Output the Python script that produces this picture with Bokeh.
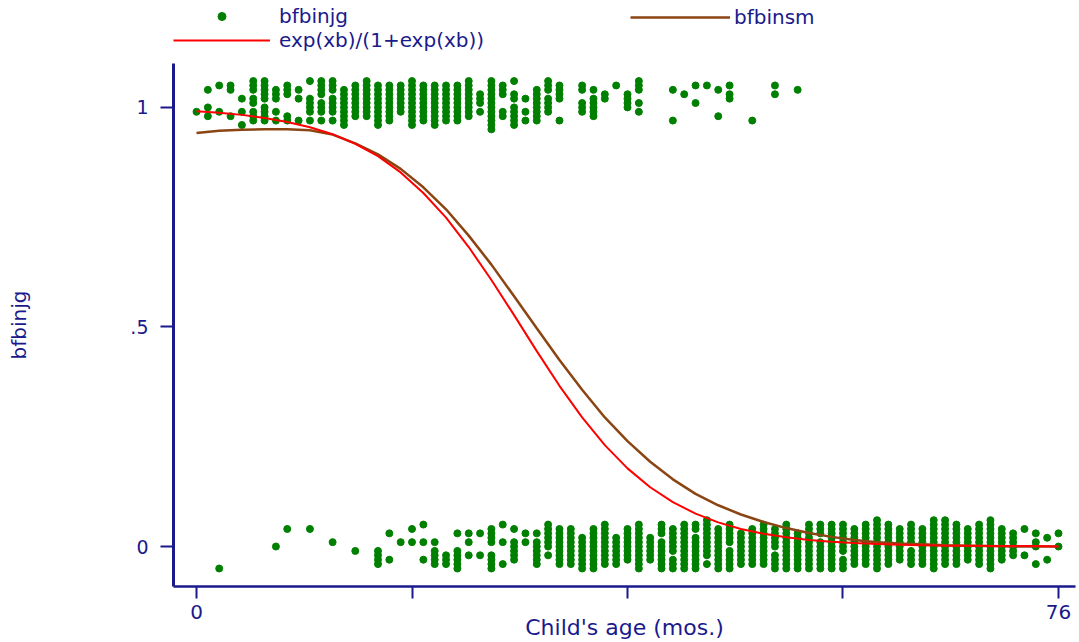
from bokeh.plotting import figure
from bokeh.layouts import column
from bokeh.models import Range1d, FixedTicker, Legend, LegendItem, ColumnDataSource
from bokeh.embed import file_html
from bokeh.resources import INLINE

# ---------------- data ----------------
# breastfed = 1 : age (months) and vertical jitter offsets (hundredths)
ones_age = [0, 1, 2, 3, 4, 5, 6, 7, 8, 9, 10, 11, 12, 13, 14, 15, 16, 17, 18, 19,
            20, 21, 22, 23, 24, 25, 26, 27, 28, 29, 30, 31, 32, 34, 35, 36, 37, 38,
            39, 42, 43, 44, 45, 46, 47, 49, 51, 53]
ones_jit = [[-1], [4, 0, -2], [5, -1], [5, 4, -2], [2, -1, -4],
            [6, 5, 4, 2, 1, -1, -2, -3], [6, 5, 4, 3, 2, 0, -1, -2, -3],
            [4, 3, 2, -1, -3], [5, 4, 3, -2, -3], [4, 2, -3], [6, 2, 1, 0, -1, -3],
            [6, 5, 4, 3, 1, 0, -1, -3], [6, 5, 4, 2, 1, 0, -1, -3],
            [4, 3, 2, 1, 0, -1, -2, -3, -4], [5, 4, 3, 2, 1, 0, -1, -2],
            [6, 5, 4, 3, 2, 1, 0, -1, -2], [5, 4, 3, 2, 1, 0, -1, -2, -3, -4],
            [5, 4, 3, 2, 1, 0, -1, -2, -3], [5, 4, 3, 2, 1, 0, -1],
            [6, 5, 4, 3, 2, 1, 0, -1, -2, -3, -4], [5, 4, 3, 2, 1, 0, -1, -2, -3],
            [5, 4, 3, 2, 1, 0, -1, -2, -3, -4], [5, 4, 3, 2, 1, 0, -1, -2, -3],
            [5, 4, 3, 2, 1, 0, -1, -2, -3], [6, 5, 4, 3, 2, 1, 0, -1, -2],
            [3, 2, 1, -1], [6, 5, 4, 3, 2, 1, 0, -1, -2, -3, -4, -5],
            [5, 4, 3, -1, -2], [6, 3, 2, 0, -1, -2, -3, -4], [2, -1, -3],
            [4, 3, 2, 1, 0, -1, -2, -3], [6, 5, 4, 2, 1, 0, -1], [5, 4, 3, 2, -3],
            [5, 4, 1, 0, -1], [4, 2, 1, 0, -1, -2], [3, 2], [5], [3, 2, 1, 0],
            [6, 5, 4, 1, -1], [4, -3], [3], [5, 1], [5], [4, -2], [5, 3, 2], [-3],
            [5, 3], [4]]

# breastfed = 0 : age (months) and vertical jitter offsets (hundredths)
zeros_age = [2, 7, 8, 10, 12, 14, 16, 17, 18, 19, 20, 21, 22, 23, 24, 25, 26, 27,
             28, 29, 30, 31, 32, 33, 34, 35, 36, 37, 38, 39, 40, 41, 42, 43, 44, 45,
             46, 47, 48, 49, 50, 51, 52, 53, 54, 55, 56, 57, 58, 59, 60, 61, 62, 63,
             64, 65, 66, 67, 68, 69, 70, 71, 72, 73, 74, 75, 76]
zeros_jit = [[-5], [0], [4], [4], [1], [-1], [-1, -2, -3, -4], [3, -3], [1], [4, 1],
             [5, 1, -3], [1, -1, -2, -3, -4], [-2, -3, -4], [3, -1, -2, -3, -4, -5],
             [3, 1, -2], [3, -2], [4, 3, 2, 1, -2, -3, -4, -5], [5, 1, -4],
             [4, 1, 0, -1, -2, -3], [3, 1], [3, 1, 0, -1, -2, -3, -4],
             [5, 4, 3, 2, 1, 0, -2], [4, 3, 2, 1, 0, -1, -2, -3, -4],
             [4, 3, 2, 1, 0, -1, -2, -3, -4], [2, 1, 0, -1, -2, -3, -4, -5],
             [4, 3, 2, 1, 0, -1, -2, -3, -4, -5], [5, 4, 3, 2, 1, 0, -1, -2, -3, -4],
             [2, 1, 0, -1, -2, -3, -4], [4, 3, 2, 1, 0, -1, -2, -3],
             [5, 4, 3, 2, 1, 0, -1, -2, -3, -4, -5], [2, 1, 0, -1, -2, -3],
             [5, 4, 3, 1, 0, -1, -2, -3, -4, -5], [4, 3, 2, 1, 0, -1, -3, -4, -5],
             [5, 4, 3, 2, 1, 0, -1, -2, -3, -4, -5], [5, 4, 2, 1, 0, -1, -2, -3, -4, -5],
             [6, 5, 4, 3, 2, 1, 0, -1, -2, -4], [4, 3, 2, 1, 0, -1, -2, -3, -4, -5],
             [5, 4, 3, 2, 1, -1, -2, -3, -4, -5], [3, 2, 1, 0, -1, -2, -3, -4],
             [4, 3, 2, 1, 0, -1, -2, -3, -4], [5, 4, 3, 2, 1, 0, -1, -2, -3, -4],
             [4, 3, 2, 1, 0, -2, -3, -4, -5], [5, 4, 3, 2, 1, 0, -1, -2, -3, -4, -5],
             [3, 2, 1, 0, -1, -2, -3, -4, -5], [5, 4, 3, 2, 1, 0, -1, -2, -3, -4, -5],
             [5, 4, 3, 1, 0, -1, -2, -3, -4, -5], [5, 4, 3, 2, 1, 0, -1, -2, -3, -4, -5],
             [5, 4, 3, 2, 1, 0, -1, -3, -4, -5], [4, 3, 2, 1, 0, -1, -2, -3, -4],
             [5, 4, 3, 2, 1, 0, -1, -2, -3, -4], [6, 5, 4, 3, 2, 1, 0, -1, -2, -3, -4, -5],
             [5, 4, 3, 2, 1, 0, -1, -2, -3, -4], [4, 3, 2, 1, 0, -1, -2, -3],
             [5, 4, 3, 2, 1, -1, -2, -3, -4], [4, 3, 2, 1, 0, -1, -2, -3, -4],
             [6, 5, 4, 3, 2, 1, 0, -1, -2, -3, -4, -5], [6, 5, 4, 3, 2, 1, 0, -1, -2, -3, -4],
             [5, 4, 3, 2, 1, 0, -1, -2, -3, -4], [4, 3, 2, 1, 0, -1, -2, -3],
             [5, 4, 3, 2, 1, 0, -1, -2, -3, -4], [6, 5, 4, 3, 2, 1, 0, -1, -2, -3, -4, -5],
             [4, 3, 2, 1, 0, -1, -2, -3], [3, 2, 1, 0, -1, -2], [4, -2], [3, 1, 0, -4],
             [2, -3], [3, 0]]

# fitted curves read at these ages
curve_age = [0, 2, 4, 6, 8, 10, 12, 14, 16, 18, 20, 22, 24, 26, 28, 30, 32, 34, 36, 38,
             40, 42, 44, 46, 48, 50, 52, 54, 56, 58, 60, 62, 64, 66, 68, 70, 72, 74, 76]
logit_fit = [0.991, 0.988, 0.983, 0.976, 0.967, 0.955, 0.939, 0.917, 0.889, 0.852,
             0.805, 0.749, 0.682, 0.607, 0.527, 0.445, 0.366, 0.294, 0.231, 0.178,
             0.135, 0.101, 0.075, 0.055, 0.040, 0.029, 0.021, 0.015, 0.011, 0.008,
             0.006, 0.004, 0.003, 0.002, 0.002, 0.001, 0.001, 0.001, 0.000]
lowess_fit = [0.942, 0.947, 0.949, 0.950, 0.950, 0.948, 0.938, 0.918, 0.893, 0.860,
              0.818, 0.768, 0.708, 0.642, 0.570, 0.497, 0.425, 0.357, 0.294, 0.240,
              0.193, 0.153, 0.120, 0.094, 0.073, 0.056, 0.042, 0.031, 0.022, 0.015,
              0.010, 0.007, 0.005, 0.003, 0.002, 0.001, 0.000, 0.000, 0.000]

x_ticks = [0, 19, 38, 57, 76]
x_labels = ["0", "", "", "", "76"]
y_ticks = [0, 0.5, 1]
y_labels = ["0", ".5", "1"]

# ---------------- build ----------------
px, py = [], []
for a, offs in zip(ones_age, ones_jit):
    for o in offs:
        px.append(a)
        py.append(1 + o / 100.0)
for a, offs in zip(zeros_age, zeros_jit):
    for o in offs:
        px.append(a)
        py.append(o / 100.0)

NAVY = "#1a1a8c"
FONT = "DejaVu Sans"
GREEN = "#008000"
RED = "#ff0000"
BROWN = "#8B4513"

# main plot (frame top at page y=63, frame bottom at page y=586)
p = figure(width=1079, height=579, output_backend="svg", toolbar_location=None,
           x_range=Range1d(-2.03, 77.5), y_range=Range1d(-0.091, 1.100),
           min_border_left=173, min_border_right=4, min_border_top=0,
           min_border_bottom=56)
p.background_fill_color = "white"
p.border_fill_color = "white"
p.outline_line_color = None
p.xgrid.visible = False
p.ygrid.visible = False

src = ColumnDataSource(dict(x=px, y=py))
p.scatter("x", "y", source=src, marker="circle", size=7,
          fill_color=GREEN, line_color=GREEN)
curves = ColumnDataSource(dict(age=curve_age, fit=logit_fit, low=lowess_fit))
p.line("age", "low", source=curves, line_color=BROWN, line_width=2.5)
p.line("age", "fit", source=curves, line_color=RED, line_width=2)

for ax in (p.xaxis[0], p.yaxis[0]):
    ax.axis_line_color = NAVY
    ax.major_tick_line_color = NAVY
    ax.major_tick_line_width = 2
    ax.major_tick_in = 0
    ax.major_tick_out = 12
    ax.minor_tick_in = 0
    ax.minor_tick_out = 0
    ax.major_label_text_color = NAVY
    ax.major_label_text_font = FONT
    ax.axis_label_text_color = NAVY
    ax.axis_label_text_font = FONT
    ax.axis_label_text_font_style = "normal"

p.yaxis.axis_line_width = 3
p.xaxis.axis_line_width = 2.5
p.yaxis.major_tick_out = 13
p.xaxis.ticker = FixedTicker(ticks=x_ticks)
p.xaxis.major_label_overrides = {t: l for t, l in zip(x_ticks, x_labels)}
p.yaxis.ticker = FixedTicker(ticks=y_ticks)
p.yaxis.major_label_overrides = {t: l for t, l in zip(y_ticks, y_labels)}
p.xaxis.major_label_text_font_size = "20px"
p.yaxis.major_label_text_font_size = "19px"
p.xaxis.major_label_standoff = 6
p.yaxis.major_label_standoff = 12
p.xaxis.axis_label = "Child's age (mos.)"
p.xaxis.axis_label_text_font_size = "22px"
p.xaxis.axis_label_standoff = -7
p.yaxis.axis_label = "bfbinjg"
p.yaxis.axis_label_text_font_size = "20px"
p.yaxis.axis_label_standoff = 96

# legend strip above the plot (its frame is aligned with the plot frame: x from 173)
lg = figure(width=1079, height=63, output_backend="svg", toolbar_location=None,
            x_range=Range1d(0, 1), y_range=Range1d(0, 1), min_border=0,
            x_axis_type=None, y_axis_type=None)
lg.outline_line_color = None
lg.background_fill_color = "white"
lg.border_fill_color = "white"
k_pts = lg.scatter(x=[5], y=[5], marker="circle", size=7, fill_color=GREEN, line_color=GREEN)
k_red = lg.line(x=[5, 6], y=[5, 5], line_color=RED, line_width=2)
k_brown = lg.line(x=[5, 6], y=[5, 5], line_color=BROWN, line_width=2.5)

leg_common = dict(padding=0, margin=0, spacing=0, border_line_alpha=0,
                  background_fill_alpha=0, label_text_font=FONT,
                  label_text_font_size="20px", label_text_color=NAVY,
                  glyph_height=20, label_height=20)
leg1 = Legend(items=[LegendItem(label="bfbinjg", renderers=[k_pts]),
                     LegendItem(label="exp(xb)/(1+exp(xb))", renderers=[k_red])],
              location=(0, 11), glyph_width=97, label_standoff=9, **leg_common)
leg2 = Legend(items=[LegendItem(label="bfbinsm", renderers=[k_brown])],
              location=(457, 34), glyph_width=100, label_standoff=4, **leg_common)
lg.add_layout(leg1, "center")
lg.add_layout(leg2, "center")

layout = column(lg, p, spacing=0)
open("out.html", "w").write(file_html(layout, INLINE))
